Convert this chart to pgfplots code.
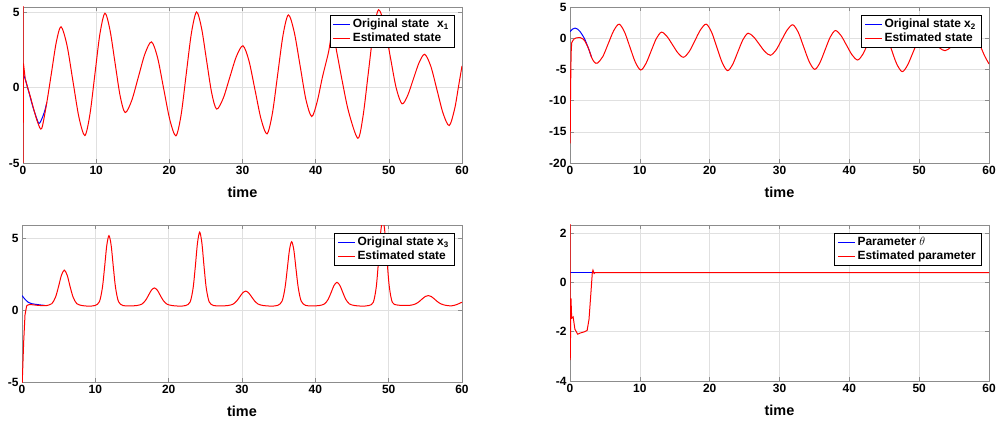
\documentclass[border=0pt]{standalone}
\usepackage{pgfplots}
\pgfplotsset{compat=1.18}
\usepackage{fontspec}
\setmainfont{Liberation Sans}
\definecolor{mred}{rgb}{1,0,0}
\definecolor{mblue}{rgb}{0,0,1}
\pgfplotsset{
  mystyle/.style={
    scale only axis, xmin=0, xmax=60, xtick={0,10,...,60},
    grid=major, major grid style={black!12, line width=0.5bp},
    axis line style={black!45}, tick style={black!45, line width=0.5bp},
    tick align=inside, major tick length=4bp,
    ticklabel style={font=\bfseries\fontsize{12}{12}\selectfont},
    /pgf/number format/assume math mode=true,
    xlabel={time},
    xlabel style={font=\bfseries\fontsize{14.5}{15}\selectfont, yshift=-5bp},
    every axis plot/.append style={line width=1bp},
  }
}
\begin{document}
\begin{tikzpicture}[x=1bp,y=1bp]
\useasboundingbox (0,0) rectangle (1003,423);
% ---------------- x1
\begin{axis}[mystyle, at={(23bp,260bp)}, anchor=south west, width=439bp, height=156bp,
  ymin=-5, ymax=5.33, ytick={-5,0,5},
  legend style={font=\bfseries\fontsize{12}{14}\selectfont, at={(1,1)}, anchor=north east, xshift=-8bp, yshift=-8bp}]
\addplot[draw=mblue, smooth] coordinates {(0,0.95) (0.3,0.55) (0.8,-0.3) (1.3,-1.2) (1.8,-1.95) (2.19,-2.38) (2.6,-2.05) (3.0,-1.5) (3.25,-1.0)};
\addlegendentry{Original state\hspace{8bp}x\textsubscript{1}}
\addplot[draw=mred, smooth] coordinates {(0.3,0.6) (0.6,0.05) (1.0,-0.6) (1.5,-1.5) (2.0,-2.3) (2.55,-2.72) (3.25,-1.0) (3.9,1.0) (4.55,3.0) (5.2,4.02) (6.01,2.80) (6.825,0.42) (7.64,-1.96) (8.45,-3.18) (9.14,-1.80) (9.825,0.87) (10.51,3.54) (11.2,4.92) (11.89,3.80) (12.58,1.63) (13.27,-0.54) (13.96,-1.66) (14.86,-0.86) (15.76,0.68) (16.66,2.22) (17.56,3.02) (18.40,1.96) (19.23,-0.09) (20.07,-2.14) (20.9,-3.2) (21.61,-1.81) (22.31,0.9) (23.02,3.61) (23.72,5.0) (24.41,3.91) (25.09,1.79) (25.78,-0.34) (26.46,-1.43) (27.36,-0.72) (28.26,0.67) (29.16,2.05) (30.06,2.76) (30.88,1.77) (31.71,-0.16) (32.53,-2.08) (33.35,-3.07) (34.08,-1.73) (34.81,0.87) (35.54,3.47) (36.27,4.81) (37.07,3.67) (37.87,1.45) (38.66,-0.78) (39.46,-1.92) (40.2,-0.95) (40.93,0.7) (41.74,2.3) (42.3,3.7) (42.9,2.3) (43.6,0.5) (44.5,-1.6) (45.76,-3.36) (46.47,-1.91) (47.18,0.9) (47.89,3.70) (48.6,5.15) (49.4,4.09) (50.2,2.03) (51.0,-0.02) (51.8,-1.08) (52.58,-0.52) (53.35,0.56) (54.13,1.64) (54.9,2.2) (55.74,1.4) (56.58,-0.16) (57.42,-1.72) (58.26,-2.52) (59.0,-1.4) (59.5,0.0) (60,1.43)};
\addlegendentry{\rlap{Estimated state}\phantom{Original state\hspace{8bp}x\textsubscript{1}}}
\addplot[draw=mred, forget plot] coordinates {(0,9) (0.01,-6) (0.06,1.6) (0.3,0.6)};
\end{axis}
% ---------------- x2
\begin{axis}[mystyle, at={(570bp,260bp)}, anchor=south west, width=419bp, height=156bp,
  ymin=-20, ymax=5, ytick={-20,-15,...,5},
  legend style={font=\bfseries\fontsize{12}{14}\selectfont, at={(1,1)}, anchor=north east, xshift=-8bp, yshift=-8bp}]
\addplot[draw=mblue, smooth] coordinates {(0,1.05) (0.35,1.45) (0.72,1.62) (1.1,1.45) (1.43,1.07) (1.8,0.45) (2.15,-0.26) (2.63,-1.6) (3.1,-3.1)};
\addlegendentry{Original state x\textsubscript{2}}
\addplot[draw=mred, smooth] coordinates {(0.5,-0.2) (0.9,0.05) (1.43,0.11) (1.9,-0.15) (2.15,-0.5) (2.63,-1.6) (3.1,-3.1) (3.5,-3.85) (3.92,-4.0) (4.70,-2.94) (5.475,-0.875) (6.25,1.19) (7.03,2.25) (7.805,1.0) (8.58,-1.425) (9.355,-3.85) (10.13,-5.1) (10.87,-4.07) (11.615,-2.065) (12.36,-0.06) (13.1,0.97) (13.89,0.28) (14.675,-1.045) (15.46,-2.37) (16.25,-3.06) (17.06,-2.16) (17.875,-0.405) (18.69,1.35) (19.5,2.25) (20.27,0.98) (21.03,-1.475) (21.80,-3.93) (22.56,-5.2) (23.30,-4.18) (24.03,-2.2) (24.77,-0.22) (25.5,0.8) (26.3,0.2) (27.1,-0.97) (27.9,-2.14) (28.7,-2.74) (29.5,-1.91) (30.3,-0.295) (31.1,1.32) (31.9,2.15) (32.69,0.93) (33.47,-1.425) (34.26,-3.78) (35.04,-5.0) (35.78,-3.94) (36.52,-1.885) (37.26,0.17) (38.0,1.23) (38.8,0.43) (39.6,-1.13) (40.4,-2.69) (41.2,-3.49) (41.98,-2.49) (42.75,-0.545) (43.53,1.4) (44.3,2.4) (45.12,1.08) (45.93,-1.48) (46.75,-4.04) (47.56,-5.36) (48.32,-4.35) (49.08,-2.38) (49.84,-0.41) (50.6,0.6) (51.38,0.16) (52.15,-0.7) (52.93,-1.56) (53.7,-2.0) (54.6,-1.39) (55.5,-0.2) (56.4,0.99) (57.3,1.6) (58.1,0.6) (58.8,-1.34) (59.4,-2.9) (60,-4.12)};
\addlegendentry{\rlap{Estimated state}\phantom{Original state x\textsubscript{2}}}
\addplot[draw=mred, forget plot] coordinates {(0,-5.09) (0.02,-16.85) (0.08,-8.3) (0.16,-2.4) (0.24,-0.75) (0.5,-0.2)};
\end{axis}
% ---------------- x3
\begin{axis}[mystyle, at={(22bp,41bp)}, anchor=south west, width=440bp, height=157bp,
  ymin=-5, ymax=5.9, ytick={-5,0,5},
  legend style={font=\bfseries\fontsize{12}{14}\selectfont, at={(1,1)}, anchor=north east, xshift=-8bp, yshift=-8bp}]
\addplot[draw=mblue, smooth] coordinates {(0,1.0) (0.4,0.75) (0.86,0.53) (1.3,0.44) (1.77,0.4) (2.5,0.35) (3.1,0.32)};
\addlegendentry{Original state x\textsubscript{3}}
\addplot[draw=mred, smooth] coordinates {(0.64,0.3) (1.0,0.38) (1.5,0.36) (2.2,0.32) (3.0,0.3) (3.37,0.31) (4.07,0.44) (4.57,0.89) (4.97,1.60) (5.37,2.40) (5.77,2.77) (6.17,2.40) (6.57,1.60) (6.97,0.89) (7.47,0.44) (8.17,0.31) (9.0,0.27) (9.96,0.31) (10.56,0.58) (10.96,1.54) (11.26,2.95) (11.56,4.48) (11.86,5.16) (12.16,4.48) (12.46,2.95) (12.76,1.54) (13.16,0.58) (13.76,0.31) (14.7,0.28) (15.65,0.31) (16.35,0.41) (16.85,0.67) (17.25,1.02) (17.65,1.38) (18.05,1.53) (18.45,1.38) (18.85,1.02) (19.25,0.67) (19.75,0.41) (20.45,0.31) (21.4,0.27) (22.33,0.31) (22.93,0.56) (23.33,1.51) (23.63,2.99) (23.93,4.65) (24.23,5.4) (24.53,4.65) (24.83,2.99) (25.13,1.51) (25.53,0.56) (26.13,0.31) (27.1,0.28) (28.1,0.31) (28.8,0.41) (29.3,0.64) (29.7,0.92) (30.1,1.19) (30.5,1.31) (30.9,1.19) (31.3,0.92) (31.7,0.64) (32.2,0.41) (32.9,0.31) (33.9,0.27) (34.87,0.32) (35.47,0.62) (35.87,1.55) (36.17,2.83) (36.47,4.16) (36.77,4.74) (37.07,4.16) (37.37,2.83) (37.67,1.55) (38.07,0.62) (38.67,0.32) (39.6,0.28) (40.55,0.31) (41.25,0.42) (41.75,0.74) (42.15,1.21) (42.55,1.70) (42.95,1.92) (43.35,1.70) (43.75,1.21) (44.15,0.74) (44.65,0.42) (45.35,0.31) (46.3,0.27) (47.3,0.31) (47.9,0.53) (48.3,1.56) (48.6,3.3) (48.9,5.34) (49.2,6.3) (49.5,5.34) (49.8,3.3) (50.1,1.56) (50.5,0.53) (51.1,0.35) (52.0,0.32) (53.0,0.33) (53.7,0.43) (54.2,0.6) (54.6,0.78) (55.0,0.94) (55.4,1.0) (55.8,0.94) (56.2,0.78) (56.6,0.6) (57.1,0.43) (57.8,0.32) (58.6,0.29) (59.3,0.38) (60,0.54)};
\addlegendentry{\rlap{Estimated state}\phantom{Original state x\textsubscript{3}}}
\addplot[draw=mred, forget plot] coordinates {(0,-5.5) (0.23,-2.2) (0.41,-0.35) (0.64,0.3)};
\end{axis}
% ---------------- theta
\begin{axis}[mystyle, at={(570bp,42bp)}, anchor=south west, width=419bp, height=156bp,
  ymin=-4, ymax=2.33, ytick={-4,-2,0,2},
  legend style={font=\bfseries\fontsize{12}{14}\selectfont, at={(1,1)}, anchor=north east, xshift=-8bp, yshift=-8bp}]
\addplot[draw=mblue] coordinates {(0,0.4) (3.6,0.4)};
\addlegendentry{\rlap{Parameter $\theta$}\phantom{Estimated parameter}}
\addplot[draw=mred] coordinates {(0,2.6) (0.03,-3.15) (0.14,-0.65) (0.24,-1.45) (0.45,-1.4) (0.7,-1.9) (1.1,-2.1) (1.5,-2.05) (2.1,-2.0) (2.45,-1.95) (2.72,-1.5) (3.0,-0.4) (3.2,0.42) (3.29,0.5) (3.45,0.36) (3.6,0.4) (60,0.4)};
\addlegendentry{Estimated parameter}
\end{axis}
\end{tikzpicture}
\end{document}
